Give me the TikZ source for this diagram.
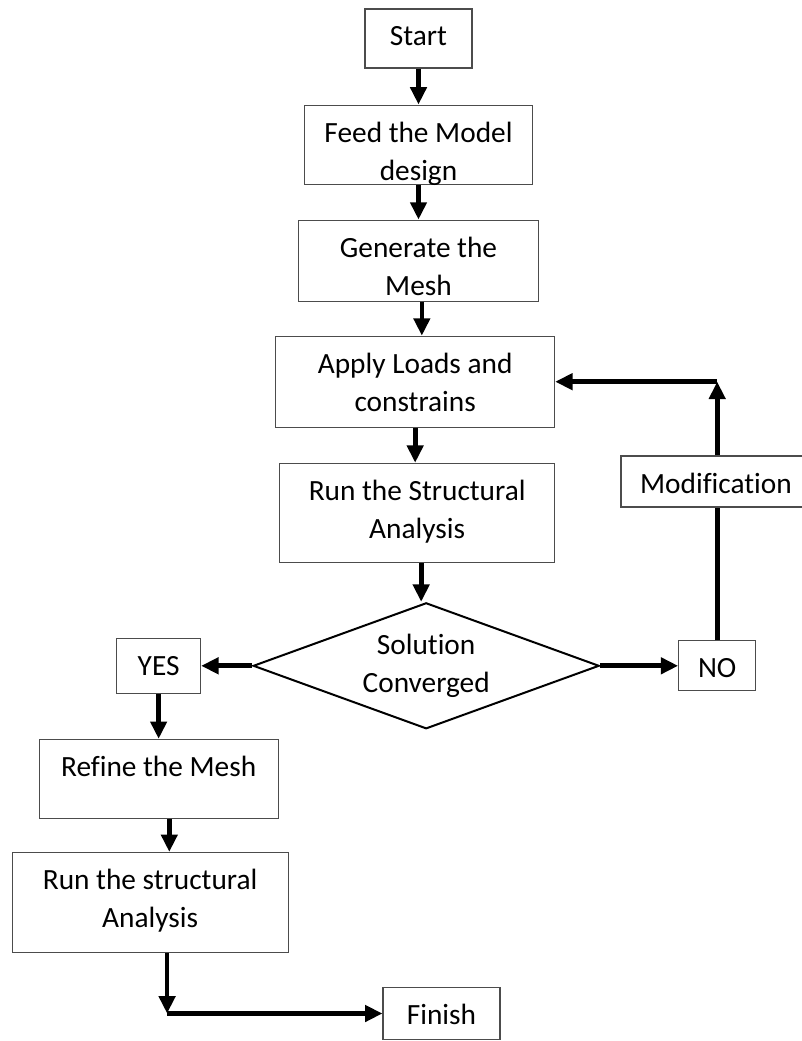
\documentclass[tikz,border=0pt]{standalone}
\usepackage{fontspec}
\setmainfont[Ligatures=NoCommon]{Carlito}
\usetikzlibrary{arrows.meta,positioning,shapes.geometric}

\begin{document}
\begin{tikzpicture}[x=0.75pt, y=-0.75pt, node distance=26pt,
  box/.style 2 args={draw=black!70, line width=0.8pt, inner sep=0pt,
    execute at begin node={\begin{minipage}[c][#2][t]{#1}\centering\fontsize{22}{28.5}\selectfont\rule{0pt}{27.75pt}},
    execute at end node={\end{minipage}}},
  decide/.style={diamond, draw, line width=1.5pt, align=center, inner sep=0pt, aspect=2.75, font=\fontsize{22}{28.5}\selectfont},
  arr/.style={line width=3.5pt, -{Triangle[length=13pt,width=12pt]}}]
\useasboundingbox (0,0) rectangle (801,1041);
\node[box={80.25pt}{44.25pt}] (start) at (418.5,38.5) {Start};
\node[box={171pt}{59.25pt}, below=27pt of start] (feed) {Feed the Model\\design};
\draw[arr] (start.south) -- (start.south |- feed.north);
\node[box={180pt}{60.75pt}, below=26.25pt of feed] (mesh) {Generate the\\Mesh};
\draw[arr] (feed.south) -- (feed.south |- mesh.north);
\node[box={209.25pt}{68.25pt}, below=25.5pt of mesh, xshift=-2.5pt] (loads) {Apply Loads and\\constrains};
\draw[arr] ([xshift=2.5pt]mesh.south) -- ([xshift=2.5pt]mesh.south |- loads.north);
\node[box={206.25pt}{74.25pt}, below=26.25pt of loads, xshift=1.5pt] (run) {Run the Structural\\Analysis};
\draw[arr] (loads.south) -- (loads.south |- run.north);
\node[decide, minimum width=259.5pt, minimum height=94.5pt, below=29.25pt of run, xshift=6.75pt] (conv) {\strut Solution\\\strut Converged};
\draw[arr] ([xshift=3pt]run.south) -- ([xshift=3pt]run.south |- conv.north);
\node[box={63pt}{41.25pt}, left=38.25pt of conv] (yes) {YES};
\draw[arr] (conv.west) -- (yes.east);
\node[box={57.75pt}{37.5pt}, right=58.5pt of conv] (no) {NO};
\draw[arr] (conv.east) -- (no.west);
\node[box={142.5pt}{38.25pt}] (mod) at (716,481.5) {Modification};
\coordinate (back) at (no.north |- loads.east);
\draw[line width=3.5pt] (no.north) -- (no.north |- mod.south);
\draw[arr] (no.north |- mod.north) -- (back);
\draw[arr] (back) -- (loads.east);
\node[box={179.25pt}{59.25pt}, below=33.75pt of yes] (refine) {Refine the Mesh};
\draw[arr] (yes.south) -- (yes.south |- refine.north);
\node[box={207pt}{75pt}, below=24.75pt of refine, xshift=-6.4pt] (run2) {Run the structural\\Analysis};
\draw[arr] ([xshift=8pt]refine.south) -- ([xshift=8pt]refine.south |- run2.north);
\node[box={87.75pt}{39pt}] (finish) at (441.5,1013.5) {Finish};
\coordinate (turn) at ([xshift=12.75pt]run2.south |- finish.west);
\draw[arr] ([xshift=12.75pt]run2.south) -- (turn);
\draw[arr] (turn) -- (finish.west);
\end{tikzpicture}
\end{document}
